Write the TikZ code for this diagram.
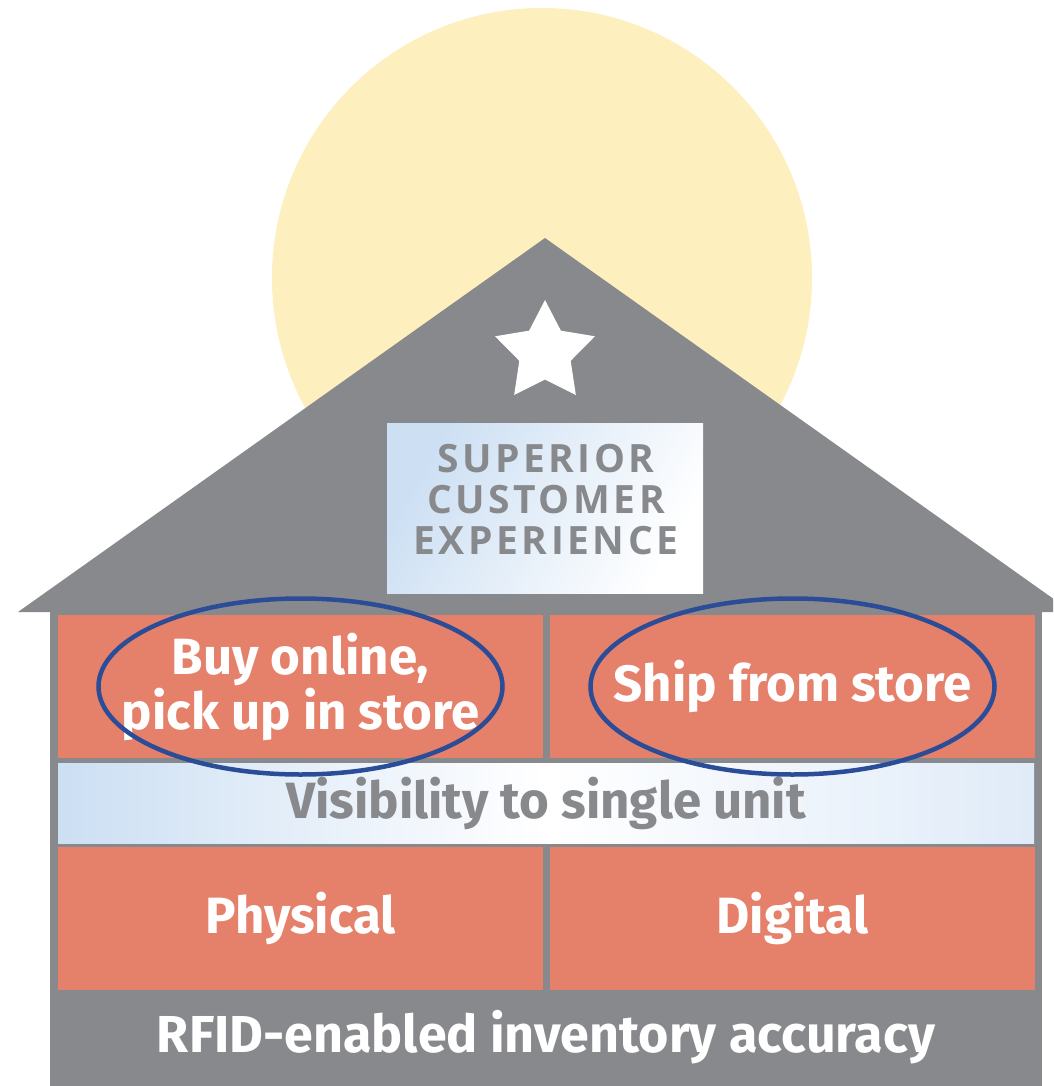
\documentclass[tikz,border=0pt]{standalone}
\usepackage{fontspec}
\setmainfont{Fira Sans}
\newfontfamily\signfont[LetterSpace=9]{Open Sans}

\definecolor{wallgray}{RGB}{136,137,141}
\definecolor{brick}{RGB}{229,128,106}
\definecolor{sunlight}{RGB}{253,239,190}
\definecolor{ringblue}{RGB}{43,76,150}
\definecolor{paleblue}{RGB}{204,223,243}
\definecolor{faintblue}{RGB}{224,235,248}

\begin{document}
\begin{tikzpicture}[x=1pt,y=-1pt,
  cell/.style={fill=brick,minimum width=485pt,minimum height=143pt,inner sep=0pt,
    text=white,align=center,font=\bfseries\fontsize{51}{55}\selectfont},
  band/.style={left color=paleblue,right color=faintblue,middle color=white,
    minimum width=976pt,minimum height=80pt,inner sep=0pt,
    text=wallgray,font=\bfseries\fontsize{51}{55}\selectfont},
  ring/.style={ringblue,line width=4.5pt}]
\clip (0,0) rectangle (1053,1086);
\fill[white] (0,0) rectangle (1053,1086);

% sun behind the roof
\fill[sunlight] (542,278) circle[radius=270];

% roof and walls
\fill[wallgray] (18,612) -- (545,238) -- (1072,612) -- cycle;
\fill[wallgray] (50,612) rectangle (1042,1086);

\fill[white,shift={(545,352.5)}] (-90:52.5) -- (-54:27) -- (-18:52.5) -- (18:27)
  -- (54:52.5) -- (90:27) -- (126:52.5) -- (162:27) -- (198:52.5) -- (234:27) -- cycle;

\node[left color=paleblue,right color=white,shading angle=60,
  minimum width=316pt,minimum height=170pt,inner sep=0pt] (sign) at (545,508) {};
\node[text=wallgray,align=center,font=\signfont\bfseries\fontsize{39}{41}\selectfont]
  (motto) at (546,499.5) {SUPERIOR\\CUSTOMER\\EXPERIENCE};

\node[cell] (bopis) at (300.5,686.5) {Buy online,\\pick up in store};
\node[cell] (ship) at (792.5,686.5) {Ship from store};
\node[band] (visibility) at (546,803) {Visibility to single unit};
\node[cell] (physical) at (300.5,918) {Physical};
\node[cell] (digital) at (792.5,918) {Digital};
\node[text=white,font=\bfseries\fontsize{52}{56}\selectfont] (rfid) at (546,1037)
  {RFID-enabled inventory accuracy};

\draw[ring] (bopis.center) ellipse[x radius=202,y radius=88];
\draw[ring] (ship.center) ellipse[x radius=202,y radius=88];

\end{tikzpicture}
\end{document}
